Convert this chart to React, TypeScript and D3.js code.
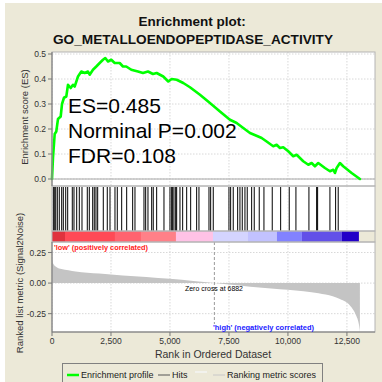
import React from "react";
import * as d3 from "d3";

// ---------- data ----------
const esRanks = [0, 42, 114, 182, 254, 369, 424, 508, 606, 678, 792, 890, 962, 1102, 1242, 1386, 1525, 1597, 1737, 1877, 2021, 2161, 2258, 2373, 2513, 2657, 2869, 3008, 3148, 3360, 3644, 3856, 4068, 4280, 4436, 4716, 4928, 5072, 5284, 5564, 5847, 6271, 6695, 7119, 7542, 7826, 8106, 8390, 8742, 8886, 9097, 9377, 9521, 9661, 9801, 10013, 10225, 10369, 10648, 10864, 11004, 11144, 11284, 11568, 11780, 11921, 11992, 12064, 12203, 12343, 12699, 13051];
const esValues = [0, 0.084, 0.18, 0.19, 0.24, 0.25, 0.3, 0.325, 0.33, 0.377, 0.364, 0.377, 0.37, 0.41, 0.43, 0.424, 0.43, 0.417, 0.437, 0.45, 0.464, 0.477, 0.484, 0.47, 0.477, 0.464, 0.464, 0.45, 0.45, 0.437, 0.43, 0.424, 0.43, 0.42, 0.424, 0.41, 0.39, 0.4, 0.397, 0.384, 0.367, 0.337, 0.304, 0.27, 0.237, 0.224, 0.204, 0.184, 0.17, 0.164, 0.15, 0.131, 0.137, 0.124, 0.127, 0.111, 0.091, 0.097, 0.071, 0.057, 0.064, 0.051, 0.064, 0.044, 0.031, 0.037, 0.024, 0.044, 0.064, 0.051, 0.024, 0];

const hitRanks = [55, 97, 157, 225, 309, 411, 479, 581, 665, 860, 932, 1047, 1157, 1271, 1496, 1581, 1725, 1792, 1864, 1936, 2174, 2343, 2458, 2669, 2767, 2953, 3165, 3419, 3517, 3898, 3970, 4068, 4225, 4292, 4436, 4746, 5000, 5072, 5114, 5169, 5242, 5284, 5424, 5538, 5708, 5877, 6131, 6229, 6653, 6725, 6835, 7500, 7572, 7682, 7869, 7966, 8064, 8178, 8275, 8462, 8572, 8784, 8983, 9335, 9691, 10055, 10339, 10890, 11216, 11258, 11780, 12021, 12131];

const barStarts = [0, 551, 2669, 3771, 5254, 6822, 8305, 9534, 10593, 12288];
const barEnds = [551, 2669, 3771, 5254, 6822, 8305, 9534, 10593, 12288, 13008];
const barColors = ["#e0323e", "#ff4a56", "#ff636f", "#ff8088", "#ffc2e6", "#d4d4ff", "#c2c2ff", "#8282ff", "#6250e8", "#2200c8"];

const metricRanks = [0, 30, 80, 200, 400, 700, 1000, 1500, 2000, 2500, 3000, 4000, 5000, 6000, 6882, 7500, 8400, 9660, 11000, 12200, 12700, 12900, 13000, 13040, 13050];
const metricValues = [0.21, 0.17, 0.15, 0.13, 0.115, 0.105, 0.095, 0.085, 0.078, 0.07, 0.063, 0.05, 0.035, 0.018, 0, -0.012, -0.03, -0.05, -0.075, -0.13, -0.2, -0.27, -0.33, -0.38, -0.4];

const xTicks = [0, 2500, 5000, 7500, 10000, 12500];
const esTicks = [0.0, 0.1, 0.2, 0.3, 0.4, 0.5];
const metricTicks = [-0.25, 0.0, 0.25];
const zeroCross = 6882;

const titleLines = ["Enrichment plot:", "GO_METALLOENDOPEPTIDASE_ACTIVITY"];
const statLines = ["ES=0.485", "Norminal P=0.002", "FDR=0.108"];

// ---------- layout ----------
const L = 52, R = 375;
const esTop = 52, esBot = 186;
const hitTop = 186, hitBot = 231;
const barBot = 242;
const mTop = 242, mBot = 332;
const font = "Liberation Sans, Arial, sans-serif";
const bg = "#ECE9D8";

export default function App() {
  const x = d3.scaleLinear().domain([0, 13690]).range([L, R]);
  const yES = d3.scaleLinear().domain([-0.028, 0.508]).range([esBot, esTop]);
  const yM = d3.scaleLinear().domain([-0.4, 0.336]).range([mBot, mTop]);

  const esLine = d3.line<number>().x((_, i) => x(esRanks[i])).y((v) => yES(v));
  const mArea = d3
    .area<number>()
    .x((_, i) => x(metricRanks[i]))
    .y0(yM(0))
    .y1((v) => yM(v))
    .curve(d3.curveMonotoneX);

  const fmt = d3.format(",");
  const grid = "#d8d8d8";

  return (
    <svg width={382} height={382} style={{ position: "absolute", left: 0, top: 0 }} fontFamily={font}>
      <rect x={0} y={0} width={382} height={382} fill="#fff" />
      <rect x={5} y={3} width={377} height={379} fill={bg} />

      {/* title */}
      <text x={192} y={26} textAnchor="middle" fontSize={13.5} fontWeight="bold" fill="#111">
        {titleLines[0]}
      </text>
      <text x={193} y={44} textAnchor="middle" fontSize={13.5} fontWeight="bold" fill="#111" textLength={280} lengthAdjust="spacingAndGlyphs">
        {titleLines[1]}
      </text>

      {/* panels */}
      <rect x={L} y={esTop} width={R - L} height={esBot - esTop} fill="#fff" />
      <rect x={L} y={hitTop} width={R - L} height={hitBot - hitTop} fill="#fff" />
      <rect x={L} y={mTop} width={R - L} height={mBot - mTop} fill="#fff" />

      {/* ES grid */}
      {esTicks.map((t) => (
        <line key={"eg" + t} x1={L} x2={R} y1={yES(t)} y2={yES(t)} stroke={grid} strokeDasharray="1.5,1.5" />
      ))}
      {xTicks.map((t) => (
        <line key={"xg" + t} x1={x(t)} x2={x(t)} y1={esTop} y2={esBot} stroke={grid} strokeDasharray="1.5,1.5" />
      ))}
      <line x1={L} x2={R} y1={yES(0)} y2={yES(0)} stroke="#a8a8a8" strokeWidth={1} />

      {/* hits panel grid */}
      {xTicks.map((t) => (
        <line key={"hg" + t} x1={x(t)} x2={x(t)} y1={hitTop} y2={hitBot} stroke="#ececec" strokeDasharray="1.5,1.5" />
      ))}

      {/* metric grid */}
      {metricTicks.map((t) => (
        <line key={"mg" + t} x1={L} x2={R} y1={yM(t)} y2={yM(t)} stroke={grid} strokeDasharray="1.5,1.5" />
      ))}
      {xTicks.map((t) => (
        <line key={"mxg" + t} x1={x(t)} x2={x(t)} y1={mTop} y2={mBot} stroke={grid} strokeDasharray="1.5,1.5" />
      ))}

      {/* metric area */}
      <path d={mArea(metricValues) || ""} fill="#c4c4c4" />
      <line x1={x(zeroCross)} x2={x(zeroCross)} y1={mTop} y2={mBot - 8} stroke="#999" strokeDasharray="3,2" />

      {/* hits */}
      {hitRanks.map((r, i) => (
        <line key={"h" + i} x1={x(r)} x2={x(r)} y1={hitTop + 1} y2={hitBot} stroke="#000" strokeWidth={1} />
      ))}

      {/* color bar */}
      {barColors.map((c, i) => (
        <rect key={"b" + i} x={x(barStarts[i])} y={hitBot} width={x(barEnds[i]) - x(barStarts[i])} height={barBot - hitBot} fill={c} />
      ))}

      {/* ES curve */}
      <path d={esLine(esValues) || ""} fill="none" stroke="#00ff00" strokeWidth={2.6} strokeLinejoin="round" strokeLinecap="round" />

      {/* stat text */}
      {statLines.map((t, i) => (
        <text key={t} x={68} y={113 + i * 25} fontSize={21} fill="#000">
          {t}
        </text>
      ))}

      {/* panel borders */}
      <rect x={L} y={esTop} width={R - L} height={esBot - esTop} fill="none" stroke="#b4b4b4" />
      <rect x={L} y={hitTop} width={R - L} height={hitBot - hitTop} fill="none" stroke="#b4b4b4" />
      <rect x={L} y={hitBot} width={R - L} height={barBot - hitBot} fill="none" stroke="#b4b4b4" />
      <rect x={L} y={mTop} width={R - L} height={mBot - mTop} fill="none" stroke="#b4b4b4" />

      {/* left axes */}
      <line x1={L} x2={L} y1={esTop} y2={esBot} stroke="#777" />
      {esTicks.map((t) => (
        <g key={"et" + t}>
          <line x1={L - 4} x2={L} y1={yES(t)} y2={yES(t)} stroke="#777" />
          <text x={L - 6} y={yES(t) + 3} textAnchor="end" fontSize={8.5} fill="#333">
            {t.toFixed(1)}
          </text>
        </g>
      ))}
      <line x1={L} x2={L} y1={mTop} y2={mBot} stroke="#777" />
      {metricTicks.map((t) => (
        <g key={"mt" + t}>
          <line x1={L - 4} x2={L} y1={yM(t)} y2={yM(t)} stroke="#777" />
          <text x={L - 6} y={yM(t) + 3} textAnchor="end" fontSize={8.5} fill="#333">
            {t.toFixed(2)}
          </text>
        </g>
      ))}

      {/* bottom axis */}
      <line x1={L} x2={R} y1={mBot} y2={mBot} stroke="#777" />
      {xTicks.map((t) => (
        <g key={"xt" + t}>
          <line x1={x(t)} x2={x(t)} y1={mBot} y2={mBot + 4} stroke="#777" />
          <text x={x(t)} y={mBot + 12} textAnchor="middle" fontSize={8.5} fill="#333">
            {fmt(t)}
          </text>
        </g>
      ))}

      {/* metric annotations */}
      <text x={54} y={249.5} fontSize={7.5} fontWeight="bold" fill="#ff2020" textLength={94} lengthAdjust="spacingAndGlyphs">
        'low' (positively correlated)
      </text>
      <text x={185} y={290.5} fontSize={7} fill="#000" textLength={58} lengthAdjust="spacingAndGlyphs">
        Zero cross at 6882
      </text>
      <text x={213} y={329.5} fontSize={7.5} fontWeight="bold" fill="#2020ff" textLength={101} lengthAdjust="spacingAndGlyphs">
        'high' (negatively correlated)
      </text>

      {/* axis titles */}
      <text transform={`translate(28,${(esTop + esBot) / 2 - 2}) rotate(-90)`} textAnchor="middle" fontSize={9.5} fill="#333">
        Enrichment score (ES)
      </text>
      <text transform={`translate(23,283) rotate(-90)`} textAnchor="middle" fontSize={9.5} fill="#333">
        Ranked list metric (Signal2Noise)
      </text>
      <text x={213} y={358} textAnchor="middle" fontSize={10.5} fill="#333">
        Rank in Ordered Dataset
      </text>

      {/* legend */}
      <rect x={62.5} y={363.5} width={260} height={25} fill={bg} stroke="#808080" />
      <line x1={67} x2={79} y1={375} y2={375} stroke="#00ff00" strokeWidth={2.5} />
      <text x={81} y={378} fontSize={9} fill="#222">Enrichment profile</text>
      <line x1={158} x2={170} y1={375} y2={375} stroke="#555" strokeWidth={1} />
      <text x={172} y={378} fontSize={9} fill="#222">Hits</text>
      <line x1={195} x2={207} y1={372} y2={372} stroke="#f4f4f4" strokeWidth={1.5} />
      <line x1={213} x2={225} y1={375} y2={375} stroke="#c8c8c8" strokeWidth={1} />
      <text x={227} y={378} fontSize={9} fill="#222">Ranking metric scores</text>
    </svg>
  );
}
